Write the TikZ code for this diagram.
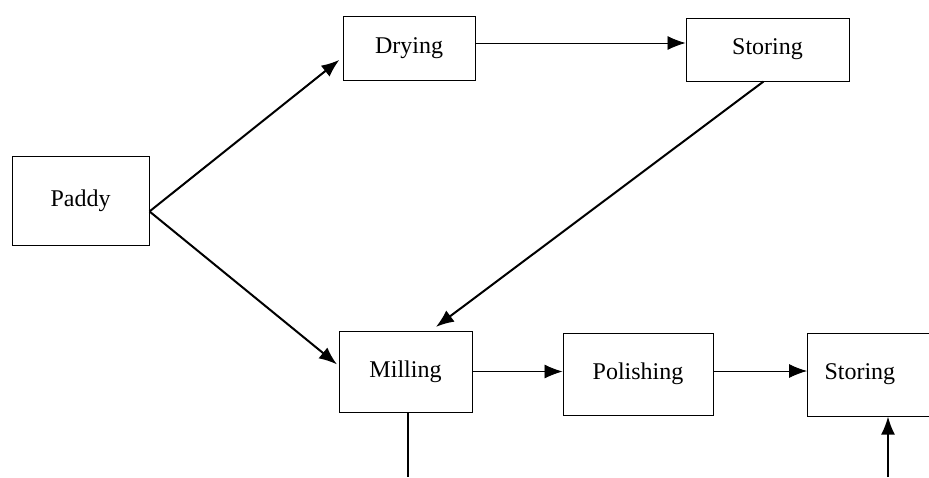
\documentclass[tikz,border=0pt]{standalone}
\usepackage{fontspec}
\setmainfont{Liberation Serif}
\usetikzlibrary{arrows.meta}
\usetikzlibrary{positioning}

\tikzset{
 stage/.style={rectangle, draw=black, line width=1pt, inner sep=0pt, font=\fontsize{24}{28}\selectfont},
 flow/.style={-{Latex[length=18pt, width=14pt]}, draw=black, line width=0.8pt},
 thickflow/.style={flow, line width=2pt},
}

\begin{document}
\begin{tikzpicture}[x=1pt, y=-1pt]
 \useasboundingbox (0, 0) rectangle (929, 477);
 \node [stage, minimum width=137pt, minimum height=89pt] (paddy) at (80.5, 200.5) {Paddy};
 \node [stage, minimum width=132pt, minimum height=64pt] (drying) at (409, 48) {Drying};
 \node [stage, minimum width=163pt, minimum height=63pt] (storeA) at (767.5, 49.5) {Storing};
 \node [stage, minimum width=133pt, minimum height=81pt] (milling) at (405.5, 371.5) {Milling};
 \node [stage, minimum width=150pt, minimum height=82pt] (polishing) at (638, 374) {Polishing};
 \node [stage, anchor=west, minimum height=83pt, text width=120pt, inner xsep=17pt, align=left] (storeB) at (807, 374.5) {Storing};
 \coordinate (millout) at (408, 477);
 \coordinate (storein) at (888, 477);
 \draw [thickflow, shorten >=4pt] (paddy.-9) to (drying.188);
 \draw [thickflow, shorten >=2pt] (paddy.-9) to (milling.175);
 \draw [flow] ([yshift=5pt]drying.east) to ([yshift=5pt]drying.east -| storeA.west);
 \draw [thickflow, shorten >=6pt] ([xshift=-4pt]storeA.south) to (milling.58);
 \draw [flow] (milling.east) to (milling.east -| polishing.west);
 \draw [flow] ([yshift=3pt]polishing.east) to ([yshift=3pt]polishing.east -| storeB.west);
 \draw [line width=2pt] (milling.south -| millout) to (millout);
 \draw [thickflow] (storein) to (storein |- storeB.south);
\end{tikzpicture}
\end{document}
